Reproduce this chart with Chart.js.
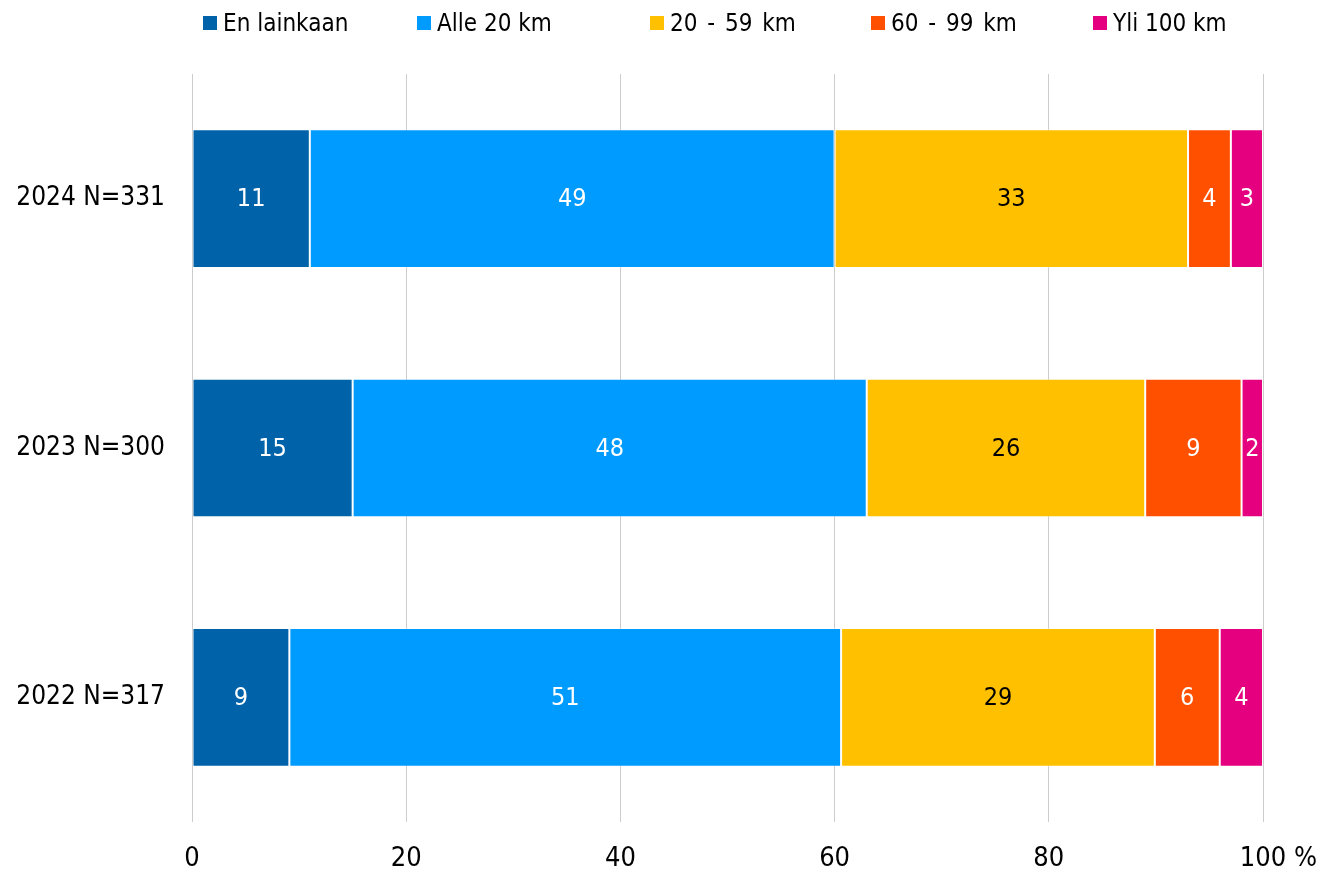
<!DOCTYPE html>
<html>
<head>
<meta charset="utf-8">
<script src="https://cdn.jsdelivr.net/npm/chart.js@4/dist/chart.umd.min.js"></script>
<style>
  html, body { margin: 0; padding: 0; background: #fff; }
  #wrap { width: 1324px; height: 870px; position: relative; }
  #legend {
    position: absolute; left: 0; top: 6px; width: 1324px; height: 34px;
    font-family: 'DejaVu Sans Condensed', 'DejaVu Sans', sans-serif; font-size: 24px; color: #000;
  }
  #legend .item { position: absolute; top: 0; height: 34px; display: flex; align-items: center; white-space: nowrap; }
  #legend .box { width: 14px; height: 14px; margin-right: 6px; }
  #legend .wide { word-spacing: 3px; }
</style>
</head>
<body>
<div id="wrap">
  <canvas id="matka"></canvas>
  <div id="legend"></div>
</div>
<script>
// Vastaajaryhmät (ylhäältä alas)
const categories = ['2024 N=331', '2023 N=300', '2022 N=317'];
const seriesNames = ['En lainkaan', 'Alle 20 km', '20 - 59 km', '60 - 99 km', 'Yli 100 km'];

// Osuudet prosentteina, samassa järjestyksessä kuin categories
const enLainkaan = [11, 15, 9];
const alle20 = [49, 48, 51];
const km20to59 = [33, 26, 29];
const km60to99 = [4, 9, 6];
const yli100 = [3, 2, 4];

const xTicks = [0, 20, 40, 60, 80, 100];

const FONT = "'DejaVu Sans Condensed', 'DejaVu Sans', sans-serif";
const series = [enLainkaan, alle20, km20to59, km60to99, yli100];
const colors = ['#0063a9', '#009bff', '#ffc000', '#ff5000', '#e4007f'];
const labelColors = ['#ffffff', '#ffffff', '#000000', '#ffffff', '#ffffff'];
const legendLeft = [203, 417, 650, 871, 1093];

// 100 % pinottu: jokainen palkki skaalataan summaansa
const totals = categories.map((c, j) => series.reduce((s, arr) => s + arr[j], 0));

const datasets = series.map((arr, i) => ({
    label: seriesNames[i],
    data: arr.map((v, j) => v / totals[j] * 100),
    values: arr,
    labelColor: labelColors[i],
    backgroundColor: colors[i],
    borderColor: 'rgba(255,255,255,0.3)',
    borderWidth: 1,
    borderSkipped: false,
    categoryPercentage: 1,
    barPercentage: 0.556
}));

// Selite
const legend = document.getElementById('legend');
seriesNames.forEach((name, i) => {
    const item = document.createElement('div');
    item.className = 'item';
    item.style.left = legendLeft[i] + 'px';
    const box = document.createElement('span');
    box.className = 'box';
    box.style.background = colors[i];
    const txt = document.createElement('span');
    txt.textContent = name;
    if (name.indexOf(' - ') >= 0) txt.className = 'wide';
    item.appendChild(box);
    item.appendChild(txt);
    legend.appendChild(item);
});

// Arvot palkkien keskelle ja %-merkki viimeisen tikin perään
const valueLabels = {
    id: 'valueLabels',
    afterDatasetsDraw(chart) {
        const ctx = chart.ctx;
        ctx.save();
        ctx.font = '25px ' + FONT;
        ctx.textAlign = 'center';
        ctx.textBaseline = 'middle';
        chart.data.datasets.forEach((ds, i) => {
            const meta = chart.getDatasetMeta(i);
            meta.data.forEach((bar, j) => {
                ctx.fillStyle = ds.labelColor;
                ctx.fillText(String(ds.values[j]), (bar.x + bar.base) / 2, bar.y + 1);
            });
        });
        ctx.restore();
    },
    afterDraw(chart) {
        const xs = chart.scales.x;
        const items = xs.getLabelItems();
        const last = items[items.length - 1];
        if (!last) return;
        const ctx = chart.ctx;
        ctx.save();
        ctx.font = last.font.string;
        ctx.fillStyle = '#000';
        ctx.textAlign = 'left';
        ctx.textBaseline = last.options.textBaseline;
        const w = ctx.measureText(String(last.label)).width;
        ctx.fillText(' %', last.options.translation[0] + w / 2, last.options.translation[1] + last.textOffset);
        ctx.restore();
    }
};

new Chart(document.getElementById('matka'), {
    type: 'bar',
    data: { labels: categories, datasets: datasets },
    plugins: [valueLabels],
    options: {
        indexAxis: 'y',
        responsive: true,
        maintainAspectRatio: false,
        animation: false,
        layout: { padding: { left: 0, right: 61, top: 74, bottom: 0 } },
        plugins: {
            legend: { display: false },
            tooltip: { enabled: false }
        },
        scales: {
            x: {
                stacked: true,
                min: 0,
                max: 100,
                afterBuildTicks(scale) { scale.ticks = xTicks.map(v => ({ value: v })); },
                afterFit(scale) { scale.height = 48; },
                grid: { color: '#cccccc', lineWidth: 1, drawTicks: false },
                border: { display: false },
                ticks: {
                    color: '#000',
                    padding: 23,
                    font: { family: FONT, size: 27, lineHeight: 1 },
                    callback: v => String(v)
                }
            },
            y: {
                stacked: true,
                afterFit(scale) { scale.width = 192; },
                grid: { display: false, drawTicks: false },
                border: { display: false },
                ticks: {
                    color: '#000',
                    padding: 27,
                    font: { family: FONT, size: 26 }
                }
            }
        }
    }
});
</script>
</body>
</html>
